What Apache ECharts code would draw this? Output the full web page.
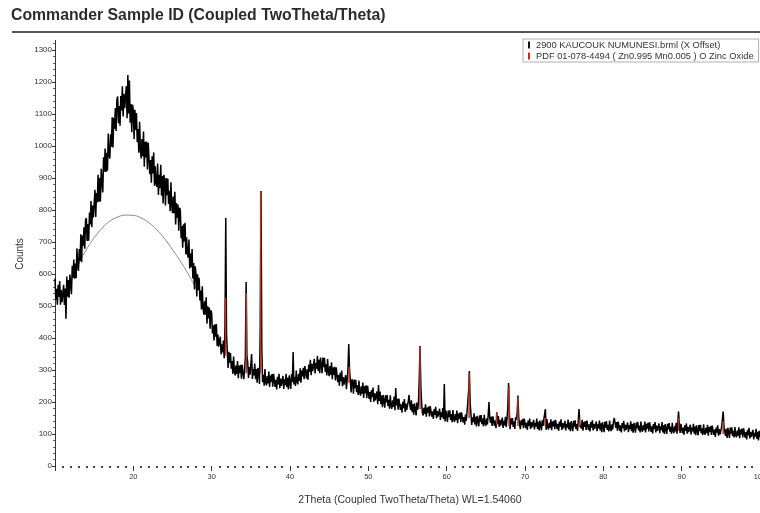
<!DOCTYPE html>
<html>
<head>
<meta charset="utf-8">
<title>Commander Sample ID (Coupled TwoTheta/Theta)</title>
<script src="https://cdn.jsdelivr.net/npm/echarts@6/dist/echarts.min.js"></script>
<style>
  html, body { margin: 0; padding: 0; background: #ffffff; overflow: hidden; }
  #chart { width: 760px; height: 513px; }
</style>
</head>
<body>
<div id="chart"></div>
<script>
// Scan: 2Theta from 10 to 100 degrees, 0.1 degree step
const scanStart = 10;
const scanStep = 0.1;

// Measured counts, one row per degree (10 points each)
const counts10to30 = [
  586, 520, 554, 504, 566, 528, 578, 504, 550, 512,
  506, 566, 503, 555, 460, 592, 529, 581, 526, 598,
  597, 537, 626, 588, 645, 585, 633, 587, 680, 624,
  610, 678, 641, 724, 637, 720, 688, 746, 679, 767,
  775, 703, 756, 704, 792, 755, 828, 746, 814, 777,
  777, 863, 778, 853, 824, 910, 826, 900, 827, 929,
  927, 855, 965, 920, 992, 919, 979, 923, 1039, 972,
  961, 1037, 998, 1090, 995, 1088, 1054, 1119, 1047, 1145,
  1155, 1071, 1125, 1063, 1156, 1111, 1187, 1092, 1163, 1118,
  1117, 1187, 1087, 1222, 1102, 1205, 1073, 1131, 1043, 1129,
  1112, 1022, 1113, 1050, 1103, 1012, 1053, 979, 1076, 991,
  961, 1022, 968, 1045, 935, 1013, 964, 1014, 927, 1010,
  1005, 912, 956, 885, 968, 914, 980, 876, 937, 883,
  872, 945, 847, 910, 868, 941, 845, 906, 820, 910,
  893, 814, 900, 846, 898, 819, 860, 796, 887, 814,
  790, 842, 790, 857, 755, 822, 775, 817, 735, 807,
  800, 712, 750, 682, 755, 702, 760, 662, 715, 662,
  651, 708, 617, 664, 621, 678, 586, 634, 552, 624,
  601, 530, 599, 549, 588, 517, 548, 489, 562, 495,
  473, 515, 473, 527, 445, 499, 461, 495, 429, 487
];
const counts30to50 = [
  477, 414, 440, 392, 442, 404, 444, 375, 411, 373,
  367, 404, 349, 380, 355, 392, 337, 440, 775, 410,
  355, 306, 357, 323, 353, 304, 328, 288, 342, 296,
  283, 314, 288, 328, 274, 314, 290, 316, 273, 316,
  315, 271, 298, 340, 575, 345, 324, 275, 309, 285,
  283, 350, 272, 303, 283, 320, 271, 303, 260, 306,
  299, 256, 430, 859, 370, 262, 285, 251, 303, 262,
  252, 281, 258, 295, 247, 283, 263, 287, 248, 288,
  287, 247, 269, 239, 279, 255, 288, 243, 273, 250,
  247, 282, 241, 271, 253, 288, 246, 276, 239, 283,
  277, 241, 287, 263, 356, 255, 279, 250, 298, 264,
  255, 287, 266, 305, 260, 298, 280, 307, 271, 312,
  317, 274, 302, 270, 317, 294, 332, 284, 319, 296,
  295, 335, 289, 322, 304, 344, 297, 332, 290, 339,
  334, 290, 339, 309, 338, 294, 318, 283, 334, 294,
  281, 312, 285, 324, 271, 308, 285, 310, 267, 308,
  305, 262, 284, 251, 291, 265, 298, 249, 278, 254,
  250, 284, 240, 269, 305, 381, 300, 268, 230, 271,
  264, 226, 270, 243, 269, 231, 253, 222, 267, 231,
  220, 249, 226, 261, 213, 249, 228, 252, 212, 251
];
const counts50to70 = [
  250, 210, 231, 200, 237, 215, 245, 201, 228, 205,
  202, 233, 193, 253, 203, 233, 193, 220, 184, 222,
  216, 182, 221, 199, 222, 188, 207, 179, 221, 189,
  179, 205, 185, 217, 174, 244, 189, 210, 176, 211,
  210, 175, 193, 167, 201, 181, 209, 169, 195, 175,
  172, 203, 222, 191, 175, 205, 168, 193, 160, 196,
  192, 158, 198, 175, 200, 270, 375, 250, 198, 166,
  158, 182, 163, 193, 154, 183, 167, 186, 155, 187,
  186, 154, 171, 147, 178, 160, 185, 149, 172, 154,
  151, 179, 144, 168, 153, 181, 146, 256, 139, 173,
  168, 138, 173, 153, 174, 144, 162, 137, 175, 146,
  138, 162, 143, 173, 134, 164, 148, 167, 137, 168,
  168, 136, 153, 129, 161, 142, 168, 170, 235, 297,
  195, 162, 128, 152, 137, 165, 130, 154, 124, 157,
  153, 124, 158, 138, 159, 131, 148, 124, 160, 133,
  126, 148, 130, 159, 200, 150, 135, 154, 125, 155,
  155, 125, 142, 118, 168, 131, 156, 122, 144, 126,
  125, 151, 119, 141, 127, 154, 122, 145, 180, 259,
  170, 115, 149, 130, 150, 122, 139, 116, 152, 145,
  165, 220, 150, 151, 115, 143, 128, 147, 118, 148
];
const counts70to100 = [
  147, 118, 135, 113, 142, 125, 148, 116, 137, 121,
  119, 144, 114, 135, 123, 148, 116, 138, 111, 142,
  138, 111, 143, 125, 145, 140, 178, 113, 147, 121,
  114, 135, 119, 146, 112, 139, 124, 142, 115, 144,
  144, 115, 132, 110, 139, 123, 146, 113, 134, 118,
  116, 141, 111, 132, 120, 145, 114, 136, 109, 140,
  136, 109, 141, 123, 143, 116, 131, 110, 140, 178,
  130, 133, 117, 144, 110, 137, 122, 140, 113, 142,
  142, 113, 130, 108, 137, 120, 143, 111, 132, 116,
  114, 139, 109, 130, 118, 142, 111, 133, 106, 137,
  133, 106, 138, 120, 140, 113, 129, 108, 142, 117,
  109, 130, 114, 141, 150, 134, 119, 137, 110, 139,
  139, 110, 127, 105, 134, 118, 141, 108, 129, 113,
  111, 136, 106, 127, 115, 140, 109, 131, 104, 135,
  131, 104, 136, 118, 138, 111, 126, 105, 139, 114,
  107, 128, 112, 139, 105, 132, 117, 135, 108, 137,
  136, 107, 124, 102, 131, 115, 137, 105, 126, 110,
  108, 133, 103, 124, 112, 137, 105, 127, 100, 131,
  127, 100, 132, 114, 134, 107, 122, 101, 135, 110,
  103, 124, 108, 135, 101, 130, 170, 128, 103, 132,
  132, 103, 120, 98, 127, 110, 133, 101, 122, 106,
  104, 129, 99, 120, 108, 132, 101, 123, 96, 127,
  123, 96, 128, 109, 129, 102, 118, 97, 130, 105,
  98, 119, 103, 129, 95, 122, 107, 125, 97, 126,
  126, 97, 114, 91, 120, 104, 127, 95, 115, 99,
  97, 122, 125, 170, 122, 125, 94, 116, 88, 119,
  115, 88, 120, 101, 121, 94, 110, 89, 122, 97,
  90, 111, 95, 121, 87, 114, 99, 117, 89, 118,
  118, 89, 106, 83, 112, 96, 119, 86, 107, 91,
  89, 113, 83, 104, 92, 116, 85, 107, 80, 110,
  90
];

// Fitted amorphous hump (background profile)
const humpTheta  = [12, 13, 14, 15, 16, 17, 18, 19, 20, 21, 22, 23, 24, 25, 26, 27, 28];
const humpCounts = [575, 630, 676, 713, 743, 765, 778, 784, 783, 775, 760, 738, 710, 676, 640, 600, 555];

// PDF 01-078-4494 reference lines: position, lower end, upper end
const pdfTheta  = [31.77, 34.42, 36.25, 47.54, 56.60, 62.86, 66.38, 67.96, 69.10, 72.56, 76.95, 89.60, 95.30];
const pdfLow    = [345, 290, 290, 260, 178, 150, 130, 125, 125, 125, 122, 110, 100];
const pdfHigh   = [525, 540, 855, 310, 372, 290, 165, 250, 215, 150, 148, 150, 140];

// Axis tick values
const yTicks = [0, 100, 200, 300, 400, 500, 600, 700, 800, 900, 1000, 1100, 1200, 1300];

const scanName = '2900 KAUCOUK NUMUNESI.brml (X Offset)';
const pdfName = 'PDF 01-078-4494 ( Zn0.995 Mn0.005 ) O Zinc Oxide';

const allCounts = counts10to30.concat(counts30to50, counts50to70, counts70to100);
const scanData = allCounts.map((c, i) => [+(scanStart + i * scanStep).toFixed(1), c]);
const humpData = humpTheta.map((t, i) => [t, humpCounts[i]]);
const pdfData = pdfTheta.map((t, i) => [t, pdfLow[i], pdfHigh[i]]);

const FONT = '"Liberation Sans", Arial, sans-serif';
const chart = echarts.init(document.getElementById('chart'), null, { renderer: 'canvas' });

chart.setOption({
  animation: false,
  backgroundColor: '#ffffff',
  textStyle: { fontFamily: FONT },
  title: {
    text: 'Commander Sample ID (Coupled TwoTheta/Theta)',
    left: 11,
    top: 8,
    padding: 0,
    textStyle: { fontFamily: FONT, fontSize: 15.8, fontWeight: 'bold', color: '#2b2b2b' }
  },
  legend: {
    orient: 'vertical',
    left: 523,
    top: 39,
    selectedMode: false,
    itemWidth: 2,
    itemHeight: 7,
    itemGap: 1,
    padding: [1, 5, 1, 5],
    borderColor: '#b0b0b0',
    borderWidth: 1,
    textStyle: { fontFamily: FONT, fontSize: 9.3, color: '#333', lineHeight: 10, padding: [0, 0, 0, 1] },
    data: [
      { name: scanName, icon: 'rect', itemStyle: { color: '#111' } },
      { name: pdfName, icon: 'rect', itemStyle: { color: '#c0302a' } }
    ]
  },
  grid: { left: 55, right: 0, top: 40.4, bottom: 47, outerBoundsMode: 'none' },
  xAxis: {
    type: 'value',
    min: 10,
    max: 100,
    interval: 10,
    axisLine: { show: false },
    axisTick: { show: true, length: 5, lineStyle: { color: '#333', width: 1 } },
    minorTick: { show: true, splitNumber: 10, length: 2, lineStyle: { color: '#444', width: 2 } },
    splitLine: { show: false },
    axisLabel: {
      fontSize: 7.5, color: '#333', margin: 7,
      formatter: v => (v === 10 ? '' : String(v))
    }
  },
  yAxis: {
    type: 'value',
    min: 0,
    max: 1330,
    interval: 100,
    axisLine: { show: true, lineStyle: { color: '#333', width: 1 } },
    axisTick: { show: true, length: 3, customValues: yTicks, lineStyle: { color: '#333' } },
    minorTick: { show: true, splitNumber: 5, length: 2, lineStyle: { color: '#666' } },
    splitLine: { show: false },
    axisLabel: { fontSize: 8, color: '#333', margin: 3, customValues: yTicks, formatter: v => String(v) }
  },
  graphic: [
    {
      type: 'line',
      shape: { x1: 12, y1: 32, x2: 760, y2: 32 },
      style: { stroke: '#555', lineWidth: 2 },
      silent: true
    },
    {
      type: 'text',
      x: 20, y: 254,
      rotation: Math.PI / 2,
      style: {
        text: 'Counts', fontFamily: FONT, fontSize: 10, fill: '#333',
        textAlign: 'center', textVerticalAlign: 'middle'
      },
      silent: true
    },
    {
      type: 'text',
      x: 410, y: 500,
      style: {
        text: '2Theta (Coupled TwoTheta/Theta) WL=1.54060', fontFamily: FONT, fontSize: 10.5, fill: '#333',
        textAlign: 'center', textVerticalAlign: 'middle'
      },
      silent: true
    }
  ],
  series: [
    {
      name: 'hump',
      type: 'line',
      data: humpData,
      smooth: true,
      showSymbol: false,
      z: 1,
      lineStyle: { color: '#8a8a8a', width: 1 },
      silent: true
    },
    {
      name: scanName,
      type: 'line',
      data: scanData,
      sampling: 'none',
      showSymbol: false,
      z: 2,
      itemStyle: { color: '#000' },
      lineStyle: { color: '#000', width: 1.5 },
      silent: true
    },
    {
      name: pdfName,
      type: 'custom',
      data: pdfData,
      z: 3,
      itemStyle: { color: '#c0302a' },
      encode: { x: 0, y: [1, 2] },
      renderItem: function (params, api) {
        const p0 = api.coord([api.value(0), api.value(1)]);
        const p1 = api.coord([api.value(0), api.value(2)]);
        return {
          type: 'line',
          shape: { x1: p0[0], y1: p0[1], x2: p1[0], y2: p1[1] },
          style: { stroke: '#c0302a', lineWidth: 1.5 }
        };
      },
      silent: true
    }
  ]
});
</script>
</body>
</html>
